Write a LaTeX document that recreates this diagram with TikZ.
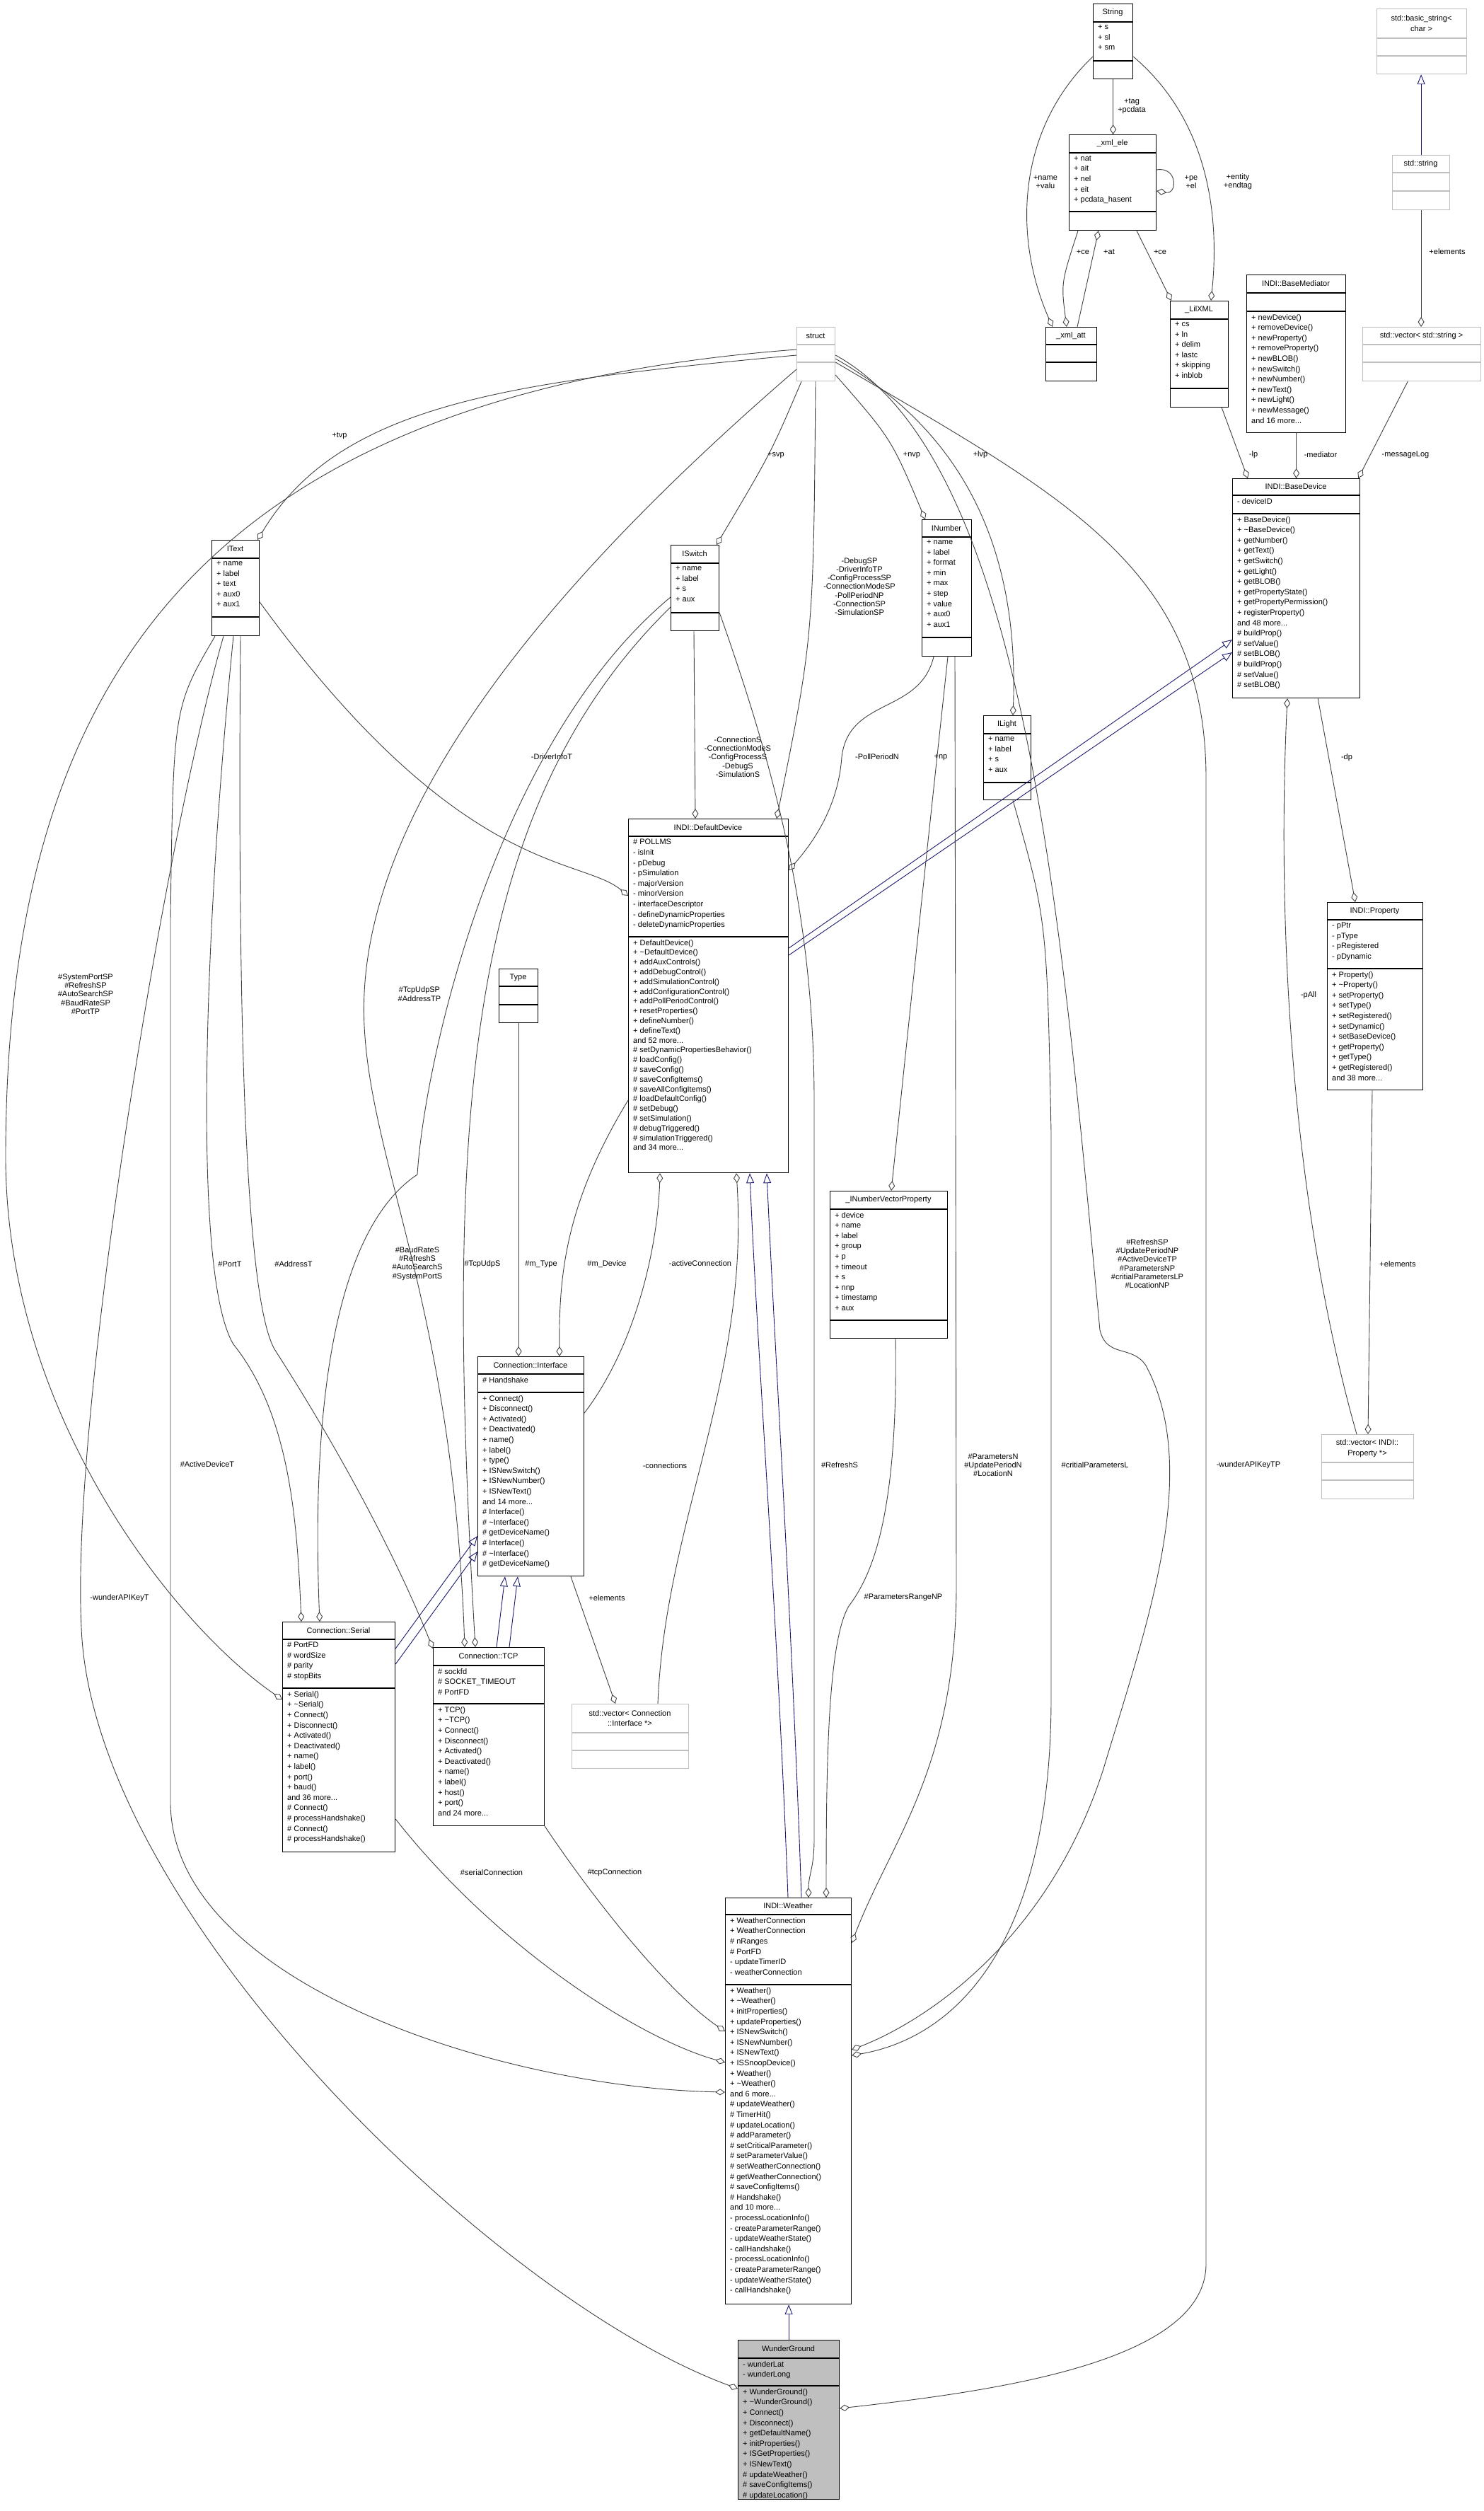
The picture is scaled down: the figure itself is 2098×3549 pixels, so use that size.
\documentclass[tikz,border=0pt]{standalone}
\usepackage{fontspec}
\setmainfont{Liberation Sans}
\usetikzlibrary{arrows.meta}
\definecolor{edgec}{HTML}{404040}
\definecolor{navyc}{HTML}{191970}
\definecolor{grayb}{HTML}{BFBFBF}
\newcommand\ubox[9]{%
  \node[#2, anchor=north west, minimum width={#5-#3}, minimum height={#6-#4}] (#1) at (#3,#4) {};
  \draw[#2, fill=none] (#3,#7) -- (#5,#7);
  \draw[#2, fill=none] (#3,#8) -- (#5,#8);
  \node[lst, anchor=center, align=center] (#1-t) at ({(#3+#5)/2},{(#4+#7)/2}) {#9};
  \coordinate (#1-a) at ({#3+7},{#7+4});
  \coordinate (#1-m) at ({#3+7},{#8+4});
}
\begin{document}
\begin{tikzpicture}[x=1pt,y=-1pt,
  cls/.style={draw=black, line width=1.2pt, inner sep=0},
  gcls/.style={draw=grayb, line width=1.2pt, inner sep=0},
  wcls/.style={draw=black, fill=grayb, line width=1.2pt, inner sep=0},
  lst/.style={inner sep=0, font=\fontsize{11}{14.6}\selectfont, align=left},
  elbl/.style={inner sep=1pt, font=\fontsize{11}{12.2}\selectfont, align=center},
  agg/.style={draw=edgec, line width=0.9pt, -{Diamond[open,length=14pt,width=9pt]}},
  inh/.style={draw=navyc, line width=0.9pt, -{Triangle[open,length=14pt,width=11pt]}}]
\useasboundingbox (0,0) rectangle (2098,3549);
% ---------- boxes ----------
\ubox{str}{cls}{1545}{5}{1601}{111}{31}{86}{String}
\node[lst,anchor=north west] (str-at) at (str-a) {+ s\\+ sl\\+ sm};
\ubox{xe}{cls}{1511}{190}{1634}{325}{216}{299}{\_xml\_ele}
\node[lst,anchor=north west] (xe-at) at (xe-a) {+ nat\\+ ait\\+ nel\\+ eit\\+ pcdata\_hasent};
\ubox{xa}{cls}{1478}{462}{1550}{538}{487}{512}{\_xml\_att}
\ubox{lil}{cls}{1654}{425}{1736}{575}{451}{549}{\_LilXML}
\node[lst,anchor=north west] (lil-at) at (lil-a) {+ cs\\+ ln\\+ delim\\+ lastc\\+ skipping\\+ inblob};
\ubox{med}{cls}{1762}{388}{1902}{611}{414}{440}{INDI::BaseMediator}
\node[lst,anchor=north west] (med-mt) at (med-m) {+ newDevice()\\+ removeDevice()\\+ newProperty()\\+ removeProperty()\\+ newBLOB()\\+ newSwitch()\\+ newNumber()\\+ newText()\\+ newLight()\\+ newMessage()\\and 16 more...};
\ubox{bstr}{gcls}{1946}{12}{2073}{104}{54}{79}{std::basic\_string<\\ char >}
\ubox{sstr}{gcls}{1968}{219}{2049}{296}{244}{270}{std::string}
\ubox{vstr}{gcls}{1926}{462}{2093}{538}{487}{512}{std::vector< std::string >}
\ubox{struct}{gcls}{1126}{462}{1180}{538}{487}{512}{struct}
\ubox{bdev}{cls}{1742}{676}{1922}{986}{700}{726}{INDI::BaseDevice}
\node[lst,anchor=north west] (bdev-at) at (bdev-a) {- deviceID};
\node[lst,anchor=north west] (bdev-mt) at (bdev-m) {+ BaseDevice()\\+ \textasciitilde BaseDevice()\\+ getNumber()\\+ getText()\\+ getSwitch()\\+ getLight()\\+ getBLOB()\\+ getPropertyState()\\+ getPropertyPermission()\\+ registerProperty()\\and 48 more...\\\# buildProp()\\\# setValue()\\\# setBLOB()\\\# buildProp()\\\# setValue()\\\# setBLOB()};
\ubox{prop}{cls}{1876}{1275}{2011}{1540}{1300}{1369}{INDI::Property}
\node[lst,anchor=north west] (prop-at) at (prop-a) {- pPtr\\- pType\\- pRegistered\\- pDynamic};
\node[lst,anchor=north west] (prop-mt) at (prop-m) {+ Property()\\+ \textasciitilde Property()\\+ setProperty()\\+ setType()\\+ setRegistered()\\+ setDynamic()\\+ setBaseDevice()\\+ getProperty()\\+ getType()\\+ getRegistered()\\and 38 more...};
\ubox{vprop}{gcls}{1868}{2027}{1998}{2118}{2067}{2092}{std::vector< INDI::\\Property *>}
\ubox{itext}{cls}{299}{763}{366}{898}{789}{872}{IText}
\node[lst,anchor=north west] (itext-at) at (itext-a) {+ name\\+ label\\+ text\\+ aux0\\+ aux1};
\ubox{isw}{cls}{948}{770}{1016}{891}{796}{866}{ISwitch}
\node[lst,anchor=north west] (isw-at) at (isw-a) {+ name\\+ label\\+ s\\+ aux};
\ubox{inum}{cls}{1303}{734}{1373}{927}{759}{901}{INumber}
\node[lst,anchor=north west] (inum-at) at (inum-a) {+ name\\+ label\\+ format\\+ min\\+ max\\+ step\\+ value\\+ aux0\\+ aux1};
\ubox{ilight}{cls}{1390}{1011}{1457}{1130}{1037}{1106}{ILight}
\node[lst,anchor=north west] (ilight-at) at (ilight-a) {+ name\\+ label\\+ s\\+ aux};
\ubox{ddev}{cls}{888}{1157}{1114}{1657}{1182}{1324}{INDI::DefaultDevice}
\node[lst,anchor=north west] (ddev-at) at (ddev-a) {\# POLLMS\\- isInit\\- pDebug\\- pSimulation\\- majorVersion\\- minorVersion\\- interfaceDescriptor\\- defineDynamicProperties\\- deleteDynamicProperties};
\node[lst,anchor=north west,font=\fontsize{11}{13.8}\selectfont] (ddev-mt) at (ddev-m) {+ DefaultDevice()\\+ \textasciitilde DefaultDevice()\\+ addAuxControls()\\+ addDebugControl()\\+ addSimulationControl()\\+ addConfigurationControl()\\+ addPollPeriodControl()\\+ resetProperties()\\+ defineNumber()\\+ defineText()\\and 52 more...\\\# setDynamicPropertiesBehavior()\\\# loadConfig()\\\# saveConfig()\\\# saveConfigItems()\\\# saveAllConfigItems()\\\# loadDefaultConfig()\\\# setDebug()\\\# setSimulation()\\\# debugTriggered()\\\# simulationTriggered()\\and 34 more...};
\ubox{invp}{cls}{1173}{1683}{1339}{1891}{1709}{1866}{\_INumberVectorProperty}
\node[lst,anchor=north west] (invp-at) at (invp-a) {+ device\\+ name\\+ label\\+ group\\+ p\\+ timeout\\+ s\\+ nnp\\+ timestamp\\+ aux};
\ubox{type}{cls}{705}{1369}{760}{1445}{1394}{1420}{Type}
\ubox{iface}{cls}{675}{1917}{825}{2227}{1942}{1968}{Connection::Interface}
\node[lst,anchor=north west] (iface-at) at (iface-a) {\# Handshake};
\node[lst,anchor=north west] (iface-mt) at (iface-m) {+ Connect()\\+ Disconnect()\\+ Activated()\\+ Deactivated()\\+ name()\\+ label()\\+ type()\\+ ISNewSwitch()\\+ ISNewNumber()\\+ ISNewText()\\and 14 more...\\\# Interface()\\\# \textasciitilde Interface()\\\# getDeviceName()\\\# Interface()\\\# \textasciitilde Interface()\\\# getDeviceName()};
\ubox{serial}{cls}{399}{2292}{558}{2617}{2317}{2386}{Connection::Serial}
\node[lst,anchor=north west] (serial-at) at (serial-a) {\# PortFD\\\# wordSize\\\# parity\\\# stopBits};
\node[lst,anchor=north west] (serial-mt) at (serial-m) {+ Serial()\\+ \textasciitilde Serial()\\+ Connect()\\+ Disconnect()\\+ Activated()\\+ Deactivated()\\+ name()\\+ label()\\+ port()\\+ baud()\\and 36 more...\\\# Connect()\\\# processHandshake()\\\# Connect()\\\# processHandshake()};
\ubox{tcp}{cls}{612}{2328}{769}{2580}{2354}{2408}{Connection::TCP}
\node[lst,anchor=north west] (tcp-at) at (tcp-a) {\# sockfd\\\# SOCKET\_TIMEOUT\\\# PortFD};
\node[lst,anchor=north west] (tcp-mt) at (tcp-m) {+ TCP()\\+ \textasciitilde TCP()\\+ Connect()\\+ Disconnect()\\+ Activated()\\+ Deactivated()\\+ name()\\+ label()\\+ host()\\+ port()\\and 24 more...};
\ubox{viface}{gcls}{808}{2408}{973}{2499}{2449}{2474}{std::vector< Connection\\ ::Interface *>}
\ubox{weather}{cls}{1025}{2682}{1203}{3256}{2706}{2805}{INDI::Weather}
\node[lst,anchor=north west] (weather-at) at (weather-a) {+ WeatherConnection\\+ WeatherConnection\\\# nRanges\\\# PortFD\\- updateTimerID\\- weatherConnection};
\node[lst,anchor=north west] (weather-mt) at (weather-m) {+ Weather()\\+ \textasciitilde Weather()\\+ initProperties()\\+ updateProperties()\\+ ISNewSwitch()\\+ ISNewNumber()\\+ ISNewText()\\+ ISSnoopDevice()\\+ Weather()\\+ \textasciitilde Weather()\\and 6 more...\\\# updateWeather()\\\# TimerHit()\\\# updateLocation()\\\# addParameter()\\\# setCriticalParameter()\\\# setParameterValue()\\\# setWeatherConnection()\\\# getWeatherConnection()\\\# saveConfigItems()\\\# Handshake()\\and 10 more...\\- processLocationInfo()\\- createParameterRange()\\- updateWeatherState()\\- callHandshake()\\- processLocationInfo()\\- createParameterRange()\\- updateWeatherState()\\- callHandshake()};
\ubox{wg}{wcls}{1043}{3307}{1186}{3532}{3333}{3372}{WunderGround}
\node[lst,anchor=north west] (wg-at) at (wg-a) {- wunderLat\\- wunderLong};
\node[lst,anchor=north west] (wg-mt) at (wg-m) {+ WunderGround()\\+ \textasciitilde WunderGround()\\+ Connect()\\+ Disconnect()\\+ getDefaultName()\\+ initProperties()\\+ ISGetProperties()\\+ ISNewText()\\\# updateWeather()\\\# saveConfigItems()\\\# updateLocation()};
% ---------- top cluster ----------
\draw[agg] (str.south) -- (str.south |- xe.north);
\node[elbl] (l1) at (1600,150) {+tag\\+pcdata};
\draw[agg] ([yshift=-75pt]str.north west) .. controls (1440,180) and (1430,330) .. ([xshift=10pt]xa.north west);
\node[elbl] (l2) at (1478,257) {+name\\+valu};
\draw[agg] ([yshift=-75pt]str.north east) .. controls (1720,180) and (1722,330) .. ([xshift=58pt]lil.north west);
\node[elbl] (l3) at (1750,257) {+entity\\+endtag};
\draw[agg] ([yshift=-50pt]xe.north east) .. controls (1665,235) and (1665,275) .. ([yshift=-80pt]xe.north east);
\node[elbl] (l4) at (1684,257) {+pe\\+el};
\draw[agg] ([xshift=13pt]xe.south west) .. controls (1500,400) .. ([xshift=30pt]xa.north west);
\node[elbl] (l5) at (1531,356) {+ce};
\draw[agg] ([xshift=45pt]xa.north west) -- ([xshift=42pt]xe.south west);
\node[elbl] (l6) at (1568,356) {+at};
\draw[agg] ([xshift=96pt]xe.south west) -- ([xshift=2pt]lil.north west);
\node[elbl] (l7) at (1640,356) {+ce};
\draw[inh] (sstr.north) -- (sstr.north |- bstr.south);
\draw[agg] (sstr.south) -- (sstr.south |- vstr.north);
\node[elbl] (l8) at (2046,356) {+elements};
\draw[agg] ([xshift=-10pt]lil.south east) -- ([xshift=22pt]bdev.north west);
\node[elbl] (l9) at (1772,643) {-lp};
\draw[agg] (med.south) -- (med.south |- bdev.north);
\node[elbl] (l10) at (1867,643) {-mediator};
\draw[agg] ([xshift=-104pt]vstr.south east) -- ([xshift=-3pt]bdev.north east);
\node[elbl] (l11) at (1987,643) {-messageLog};
\draw[agg] ([xshift=-60pt]bdev.south east) -- ([xshift=40pt]prop.north west);
\node[elbl] (l12) at (1904,1071) {-dp};
\draw[agg] ([xshift=64pt]prop.south west) -- ([xshift=66pt]vprop.north west);
\node[elbl] (l13) at (1976,1787) {+elements};
\draw[agg] ([xshift=50pt]vprop.north west) .. controls (1825,1700) and (1805,1300) .. ([xshift=78pt]bdev.south west);
\node[elbl] (l14) at (1850,1407) {-pAll};
% ---------- struct edges ----------
\draw[agg] ([yshift=-40pt]struct.north west) .. controls (720,540) and (480,570) .. ([xshift=-3pt]itext.north east);
\node[elbl] (l15) at (480,616) {+tvp};
\draw[agg] ([xshift=7pt]struct.south west) .. controls (1090,640) .. ([xshift=65pt]isw.north west);
\node[elbl] (l16) at (1097,643) {+svp};
\draw[agg] ([yshift=-68pt]struct.north east) .. controls (1260,620) .. ([xshift=5pt]inum.north west);
\node[elbl] (l17) at (1289,643) {+nvp};
\draw[agg] ([yshift=-45pt]struct.north east) .. controls (1380,620) and (1440,800) .. ([xshift=42pt]ilight.north west);
\node[elbl] (l18) at (1386,643) {+lvp};
\draw[agg] ([xshift=27pt]struct.south west) .. controls (1150,900) .. ([xshift=210pt]ddev.north west);
\node[elbl] (l19) at (1215,829) {-DebugSP\\-DriverInfoTP\\-ConfigProcessSP\\-ConnectionModeSP\\-PollPeriodNP\\-ConnectionSP\\-SimulationSP};
\draw[agg] ([xshift=33pt]isw.south west) -- ([xshift=95pt]ddev.north west);
\node[elbl] (l20) at (1043,1070) {-ConnectionS\\-ConnectionModeS\\-ConfigProcessS\\-DebugS\\-SimulationS};
\draw[agg] ([xshift=17pt]inum.south west) .. controls (1300,1010) and (1200,985) .. (1190,1070) .. controls (1185,1140) and (1150,1190) .. ([yshift=-73pt]ddev.north east);
\node[elbl] (l21) at (1240,1070) {-PollPeriodN};
\draw[agg] ([yshift=-88pt]itext.north east) .. controls (650,1240) and (820,1210) .. ([yshift=-109pt]ddev.north west);
\node[elbl] (l22) at (780,1070) {-DriverInfoT};
\draw[inh] ([yshift=-183pt]ddev.north east) -- ([yshift=-228pt]bdev.north west);
\draw[inh] ([yshift=-193pt]ddev.north east) -- ([yshift=-246pt]bdev.north west);
\draw[inh] ([xshift=89pt]weather.north west) .. controls (1100,2300) and (1070,1900) .. ([xshift=172pt]ddev.south west);
\draw[inh] ([xshift=108pt]weather.north west) .. controls (1120,2300) and (1095,1900) .. ([xshift=196pt]ddev.south west);
\draw[agg] ([yshift=-32pt]struct.north west) .. controls (250,560) and (10,1000) .. (8,1630) .. controls (6,2000) and (250,2300) .. ([yshift=-110pt]serial.north west);
\node[elbl] (l23) at (121,1405) {\#SystemPortSP\\\#RefreshSP\\\#AutoSearchSP\\\#BaudRateSP\\\#PortTP};
\draw[agg] ([yshift=-60pt]struct.north west) .. controls (780,820) and (500,1150) .. (515,1450) .. controls (525,1650) and (640,1850) .. ([xshift=45pt]tcp.north west);
\node[elbl] (l24) at (593,1405) {\#TcpUdpSP\\\#AddressTP};
\draw[agg] ([yshift=-74pt]isw.north west) .. controls (700,1050) and (600,1500) .. (590,1660) .. controls (470,1740) and (440,2000) .. ([xshift=53pt]serial.north west);
\node[elbl] (l25) at (590,1786) {\#BaudRateS\\\#RefreshS\\\#AutoSearchS\\\#SystemPortS};
\draw[agg] ([yshift=-88pt]isw.north west) .. controls (650,1150) and (630,1600) .. ([xshift=60pt]tcp.north west);
\node[elbl] (l26) at (682,1787) {\#TcpUdpS};
\draw[agg] ([xshift=31pt]itext.south west) .. controls (290,1300) and (270,1800) .. (330,1900) .. controls (410,2000) and (420,2150) .. ([xshift=27pt]serial.north west);
\node[elbl] (l27) at (325,1787) {\#PortT};
\draw[agg] ([xshift=41pt]itext.south west) .. controls (335,1500) and (350,1850) .. (390,1910) .. controls (480,2050) and (560,2200) .. ([yshift=-2pt]tcp.north west);
\node[elbl] (l28) at (415,1787) {\#AddressT};
\draw[agg] ([xshift=5pt]itext.south west) .. controls (245,1000) .. (241,1300) -- (241,2550) .. controls (245,2800) and (700,2950) .. ([yshift=-275pt]weather.north west);
\node[elbl] (l29) at (293,2070) {\#ActiveDeviceT};
\draw[agg] ([xshift=17pt]itext.south west) .. controls (230,1200) and (100,2000) .. (115,2300) .. controls (130,2700) and (700,3250) .. ([yshift=-69pt]wg.north west);
\node[elbl] (l30) at (169,2259) {-wunderAPIKeyT};
\draw[agg] ([yshift=-279pt]serial.north east) .. controls (700,2750) and (900,2880) .. ([yshift=-233pt]weather.north west);
\node[elbl] (l31) at (695,2647) {\#serialConnection};
\draw[agg] (tcp.south east) .. controls (850,2700) and (950,2820) .. ([yshift=-189pt]weather.north west);
\node[elbl] (l32) at (869,2647) {\#tcpConnection};
\draw[agg] ([yshift=-96pt]isw.north east) .. controls (1100,1100) and (1150,1300) .. (1151,1550) -- (1151,2600) .. controls (1151,2640) and (1143,2650) .. ([xshift=118pt]weather.north west);
\node[elbl] (l33) at (1187,2071) {\#RefreshS};
\draw[agg] ([xshift=37pt]inum.south west) .. controls (1300,1300) .. ([xshift=87pt]invp.north west);
\node[elbl] (l34) at (1330,1070) {+np};
\draw[agg] ([xshift=47pt]inum.south west) -- (1352,2240) .. controls (1352,2500) and (1260,2600) .. ([yshift=-64pt]weather.north east);
\node[elbl] (l35) at (1404,2071) {\#ParametersN\\\#UpdatePeriodN\\\#LocationN};
\draw[agg] ([xshift=93pt]invp.south west) .. controls (1270,2150) and (1230,2230) .. (1200,2270) .. controls (1170,2320) and (1168,2500) .. ([xshift=143pt]weather.north west);
\node[elbl] (l36) at (1277,2258) {\#ParametersRangeNP};
\draw[agg] ([xshift=42pt]ilight.south west) .. controls (1480,1300) .. (1486,1600) -- (1486,2400) .. controls (1486,2750) and (1350,2880) .. ([yshift=-223pt]weather.north east);
\node[elbl] (l37) at (1548,2071) {\#critialParametersL};
\draw[agg] ([yshift=-40pt]struct.north east) .. controls (1450,650) and (1500,1300) .. (1555,1880) .. controls (1565,1920) and (1600,1900) .. (1620,1930) .. controls (1700,2080) and (1620,2300) .. (1560,2500) .. controls (1480,2750) and (1300,2860) .. ([yshift=-215pt]weather.north east);
\node[elbl] (l38) at (1622,1786) {\#RefreshSP\\\#UpdatePeriodNP\\\#ActiveDeviceTP\\\#ParametersNP\\\#critialParametersLP\\\#LocationNP};
\draw[agg] ([yshift=-50pt]struct.north east) .. controls (1500,700) and (1705,800) .. (1705,1100) -- (1705,3200) .. controls (1705,3340) and (1400,3380) .. ([yshift=-97pt]wg.north east);
\node[elbl] (l39) at (1765,2071) {-wunderAPIKeyTP};
% ---------- connection cluster ----------
\draw[agg] ([yshift=-398pt]ddev.north west) .. controls (800,1700) and (790,1800) .. ([xshift=116pt]iface.north west);
\node[elbl] (l40) at (858,1787) {\#m\_Device};
\draw[agg] (type.south) -- (type.south |- iface.north);
\node[elbl] (l41) at (765,1787) {\#m\_Type};
\draw[agg] ([yshift=-80pt]iface.north east) .. controls (900,1900) and (930,1760) .. ([xshift=45pt]ddev.south west);
\node[elbl] (l42) at (990,1786) {-activeConnection};
\draw[agg] ([xshift=122pt]viface.north west) .. controls (940,2150) and (1060,1950) .. ([xshift=153pt]ddev.south west);
\node[elbl] (l43) at (940,2072) {-connections};
\draw[agg] ([xshift=132pt]iface.south west) -- ([xshift=62pt]viface.north west);
\node[elbl] (l44) at (858,2259) {+elements};
\draw[inh] ([yshift=-38pt]serial.north east) -- ([yshift=-254pt]iface.north west);
\draw[inh] ([yshift=-60pt]serial.north east) -- ([yshift=-276pt]iface.north west);
\draw[inh] ([xshift=90pt]tcp.north west) -- ([xshift=39pt]iface.south west);
\draw[inh] ([xshift=108pt]tcp.north west) -- ([xshift=57pt]iface.south west);
\draw[inh] (wg.north) -- (wg.north |- weather.south);
\end{tikzpicture}
\end{document}
